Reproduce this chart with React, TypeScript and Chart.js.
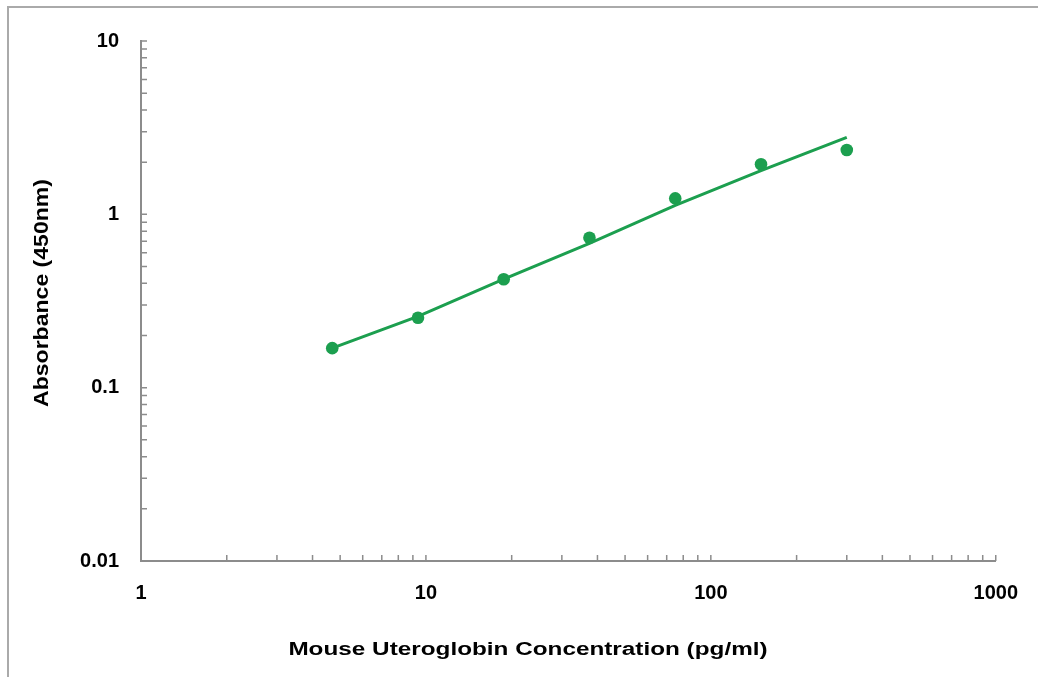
import React, { useEffect, useRef } from "react";
import { Chart, registerables } from "chart.js";

Chart.register(...registerables);

// ---- data ----
const concentrations = [4.69, 9.38, 18.75, 37.5, 75, 150, 300];
const absorbance = [0.169, 0.253, 0.422, 0.733, 1.236, 1.944, 2.35];
const fitAbsorbance = [0.169, 0.258, 0.423, 0.68, 1.125, 1.785, 2.782];
const xTickLabels = ["1", "10", "100", "1000"];
const yTickLabels = ["0.01", "0.1", "1", "10"];
const xTitle = "Mouse Uteroglobin Concentration (pg/ml)";
const yTitle = "Absorbance (450nm)";

const GREEN = "#1c9f4f";
const AXIS = "#8c8c8c";
const FONT = "'Liberation Sans', Arial, sans-serif";

function labelFor(list: string[], v: number) {
  const hit = list.find((l) => Math.abs(Number(l) / v - 1) < 1e-6);
  return hit === undefined ? "" : hit;
}

function isIntMantissa(v: number) {
  const m = v / Math.pow(10, Math.floor(Math.log10(v) + 1e-9));
  return Math.abs(m - Math.round(m)) < 1e-6;
}

const innerTicks = {
  id: "innerTicks",
  beforeDatasetsDraw(chart: any) {
    const { ctx } = chart;
    const xs = chart.scales.x;
    const ys = chart.scales.y;
    ctx.save();
    ctx.strokeStyle = AXIS;
    ctx.lineWidth = 1.5;
    ctx.beginPath();
    xs.ticks.forEach((t: any) => {
      if (!isIntMantissa(t.value)) return;
      const px = xs.getPixelForValue(t.value);
      ctx.moveTo(px, xs.top);
      ctx.lineTo(px, xs.top - 6);
    });
    ys.ticks.forEach((t: any) => {
      if (!isIntMantissa(t.value)) return;
      const py = ys.getPixelForValue(t.value);
      ctx.moveTo(ys.right, py);
      ctx.lineTo(ys.right + 6, py);
    });
    ctx.stroke();
    ctx.restore();
  },
};

export default function App() {
  const ref = useRef<HTMLCanvasElement | null>(null);

  useEffect(() => {
    document.body.style.overflow = "hidden";
    if (!ref.current) return;
    const chart = new Chart(ref.current, {
      type: "scatter",
      data: {
        datasets: [
          {
            label: "fit",
            type: "line",
            data: concentrations.map((c, i) => ({ x: c, y: fitAbsorbance[i] })),
            borderColor: GREEN,
            borderWidth: 3,
            pointRadius: 0,
            tension: 0,
            fill: false,
          } as any,
          {
            label: "standards",
            data: concentrations.map((c, i) => ({ x: c, y: absorbance[i] })),
            backgroundColor: GREEN,
            borderColor: GREEN,
            pointRadius: 6.3,
            pointBorderWidth: 0,
          },
        ],
      },
      options: {
        animation: false,
        responsive: false,
        maintainAspectRatio: false,
        layout: { padding: { left: 0, right: 38, top: 41, bottom: 0 } },
        plugins: { legend: { display: false }, tooltip: { enabled: false } },
        scales: {
          x: {
            type: "logarithmic",
            position: "bottom",
            min: 1,
            max: 1000,
            grid: { display: true, drawOnChartArea: false, drawTicks: false },
            border: { display: true, color: AXIS, width: 2 },
            ticks: {
              autoSkip: false,
              maxRotation: 0,
              padding: 20,
              color: "#000",
              font: { family: FONT, size: 20, weight: "bold" },
              callback: (v: any) => labelFor(xTickLabels, Number(v)),
            },
            afterFit: (s: any) => {
              s.height = 116;
            },
          },
          y: {
            type: "logarithmic",
            position: "left",
            min: 0.01,
            max: 10,
            grid: { display: true, drawOnChartArea: false, drawTicks: false },
            border: { display: true, color: AXIS, width: 2 },
            ticks: {
              autoSkip: false,
              padding: 22,
              color: "#000",
              font: { family: FONT, size: 20, weight: "bold" },
              callback: (v: any) => labelFor(yTickLabels, Number(v)),
            },
            afterFit: (s: any) => {
              s.width = 141;
            },
          },
        },
      },
      plugins: [innerTicks],
    });
    return () => chart.destroy();
  }, []);

  return (
    <div style={{ position: "fixed", left: 0, top: 0, width: 1038, height: 677, overflow: "hidden", background: "#fff" }}>
      <div
        style={{
          position: "absolute",
          left: 7,
          top: 6,
          width: 1100,
          height: 700,
          borderTop: "2px solid #aaaaaa",
          borderLeft: "2px solid #aaaaaa",
        }}
      />
      <canvas ref={ref} width={1038} height={677} style={{ position: "absolute", left: 0, top: 0, display: "block" }} />
      <div
        style={{
          position: "absolute",
          left: 0,
          top: 639,
          width: 1056,
          height: 20,
          lineHeight: "20px",
          textAlign: "center",
          fontFamily: FONT,
          fontWeight: "bold",
          fontSize: 18,
          color: "#000",
          whiteSpace: "nowrap",
          transform: "scale(1.35, 1.05)",
        }}
      >
        {xTitle}
      </div>
      <div
        style={{
          position: "absolute",
          left: -159,
          top: 283,
          width: 400,
          height: 20,
          lineHeight: "20px",
          textAlign: "center",
          fontFamily: FONT,
          fontWeight: "bold",
          fontSize: 18,
          color: "#000",
          whiteSpace: "nowrap",
          transform: "rotate(-90deg) scale(1.28, 1.1)",
        }}
      >
        {yTitle}
      </div>
    </div>
  );
}
